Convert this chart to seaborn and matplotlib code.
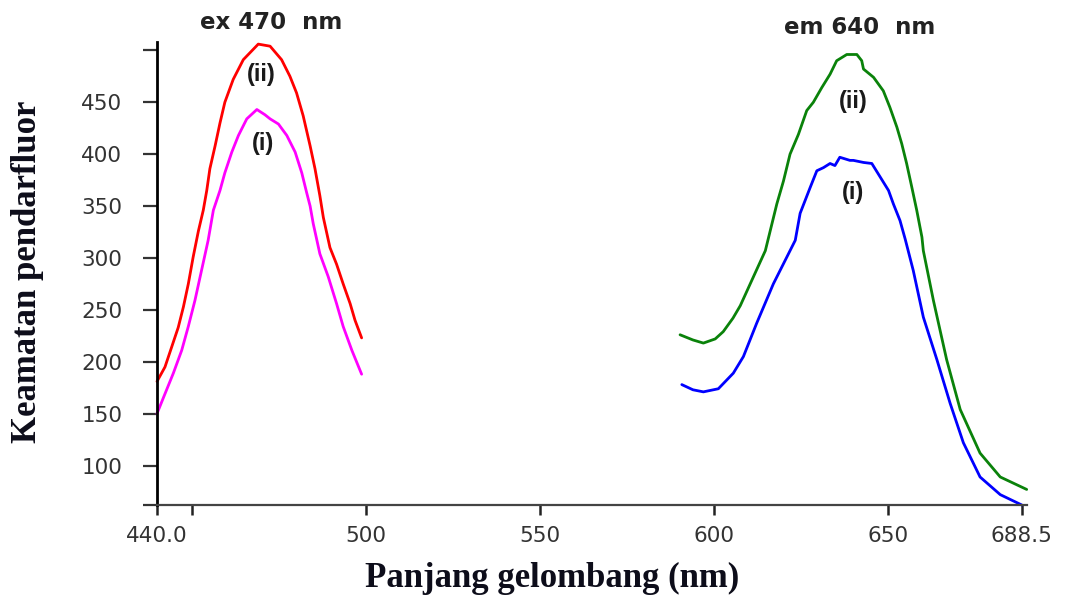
"""
Excitation / emission fluorescence spectra (ex 470 nm, em 640 nm)
"""

import matplotlib
matplotlib.use("Agg")
import matplotlib.pyplot as plt
import seaborn as sns

# excitation spectrum, curve (ii) - red
ex_ii_x = [440.0, 442.3, 444.2, 446.1, 447.6, 449.0, 450.4, 451.9, 453.3, 454.3,
           455.2, 456.7, 458.1, 459.5, 461.9, 464.8, 469.1, 472.5, 475.8, 478.2,
           480.1, 482.0, 484.0, 485.4, 486.8, 487.8, 489.7, 491.6, 493.5, 495.5,
           496.9, 498.8]
ex_ii_y = [181, 195, 214, 233, 253, 275, 301, 326, 346, 365,
           386, 408, 430, 450, 472, 491, 506, 504, 491, 475,
           459, 437, 408, 386, 360, 339, 310, 294, 275, 256,
           240, 223]

# excitation spectrum, curve (i) - magenta
ex_i_x = [440.0, 441.8, 444.7, 447.1, 449.0, 450.9, 452.8, 454.7, 456.2, 458.1,
          459.5, 461.5, 463.4, 465.8, 468.7, 471.0, 472.5, 474.9, 477.3, 479.7,
          481.6, 483.0, 484.0, 484.9, 486.8, 489.2, 491.6, 493.5, 496.0, 498.8]
ex_i_y = [150, 165, 189, 211, 234, 259, 288, 317, 346, 365,
          382, 402, 418, 434, 443, 438, 434, 429, 418, 402,
          382, 363, 350, 333, 304, 282, 256, 234, 211, 188]

# emission spectrum, curve (ii) - green
em_ii_x = [590.3, 594.0, 597.0, 600.4, 602.7, 605.5, 607.6, 611.4, 614.8, 618.1,
           620.0, 621.9, 624.3, 626.7, 628.6, 631.0, 633.4, 635.3, 638.2, 641.1,
           642.5, 643.0, 645.9, 648.7, 650.6, 652.6, 654.0, 655.4, 656.9, 658.3,
           659.8, 660.2, 663.1, 666.9, 670.8, 676.5, 682.3, 689.9]
em_ii_y = [226, 221, 218, 222, 229, 242, 254, 282, 307, 352,
           374, 400, 419, 442, 450, 464, 477, 490, 496, 496,
           490, 482, 474, 461, 445, 426, 410, 391, 368, 346,
           320, 307, 259, 202, 154, 112, 89, 77]

# emission spectrum, curve (i) - blue
em_i_x = [590.8, 594.0, 597.0, 601.3, 605.6, 608.5, 612.3, 617.1, 621.9, 623.4,
          624.8, 627.7, 629.6, 631.5, 633.4, 634.8, 636.2, 639.1, 640.1, 643.0,
          645.4, 647.8, 650.2, 651.6, 653.5, 655.0, 657.3, 660.2, 664.1, 667.9,
          671.7, 676.5, 682.3, 688.5]
em_i_y = [178, 173, 171, 174, 189, 205, 237, 275, 307, 317,
          343, 368, 384, 387, 391, 389, 397, 394, 394, 392,
          391, 378, 365, 352, 336, 318, 288, 243, 202, 160,
          122, 89, 72, 62]

x_ticks = [440, 450, 500, 550, 600, 650, 688.5]
x_labels = ["440.0", "", "500", "550", "600", "650", "688.5"]
y_ticks = [62, 100, 150, 200, 250, 300, 350, 400, 450, 500]
y_labels = ["", "100", "150", "200", "250", "300", "350", "400", "450", ""]

sns.set_theme(style="white")
plt.rcParams["font.family"] = ["DejaVu Sans"]

fig = plt.figure(figsize=(10.76, 5.98), dpi=100)
ax = fig.add_axes([0.1459, 0.1555, 0.8086, 0.7742])

curves = [
    (ex_ii_x, ex_ii_y, "#ff0000"),
    (ex_i_x, ex_i_y, "#ff00ff"),
    (em_ii_x, em_ii_y, "#0a820a"),
    (em_i_x, em_i_y, "#0000ff"),
]
for xs, ys, col in curves:
    sns.lineplot(x=xs, y=ys, color=col, linewidth=2.0, sort=False,
                 estimator=None, ax=ax, clip_on=False)

ax.set_xlim(440, 690)
ax.set_ylim(62, 508)
ax.set_xticks(x_ticks)
ax.set_xticklabels(x_labels)
ax.set_yticks(y_ticks)
ax.set_yticklabels(y_labels)
ax.set_xlabel("")
ax.set_ylabel("")

for side in ["top", "right"]:
    ax.spines[side].set_visible(False)
ax.spines["left"].set_color("black")
ax.spines["left"].set_linewidth(2.0)
ax.spines["bottom"].set_color("#444444")
ax.spines["bottom"].set_linewidth(1.6)

ax.tick_params(axis="y", direction="out", length=10, width=1.6, color="#333333",
               pad=15, labelsize=15.5, labelcolor="#333333", left=True)
ax.tick_params(axis="x", direction="out", length=7, width=1.8, color="#222222",
               pad=8, labelsize=15.5, labelcolor="#333333", bottom=True)

# curve labels
label_kw = dict(fontsize=17, fontweight="bold", family=["Liberation Sans", "DejaVu Sans"],
                color="#1a1a1a", ha="center", va="center")
ax.text(470.1, 477, "(ii)", **label_kw)
ax.text(470.5, 410, "(i)", **label_kw)
ax.text(640.1, 451, "(ii)", **label_kw)
ax.text(640.1, 363, "(i)", **label_kw)

# headings
fig.text(0.2519, 0.9632, "ex 470  nm", fontsize=16.5, fontweight="bold",
         color="#222222", ha="center", va="center")
fig.text(0.7993, 0.9548, "em 640  nm", fontsize=16.5, fontweight="bold",
         color="#222222", ha="center", va="center")

serif_kw = dict(fontsize=25, fontweight="bold",
                family=["Liberation Serif", "DejaVu Serif"], color="#0d0d1a",
                ha="center", va="center")
fig.text(0.0251, 0.5452, "Keamatan pendarfluor", rotation=90, **serif_kw)
fig.text(0.513, 0.0334, "Panjang gelombang (nm)", **serif_kw)

fig.savefig("out.png", dpi=100)
plt.close(fig)
